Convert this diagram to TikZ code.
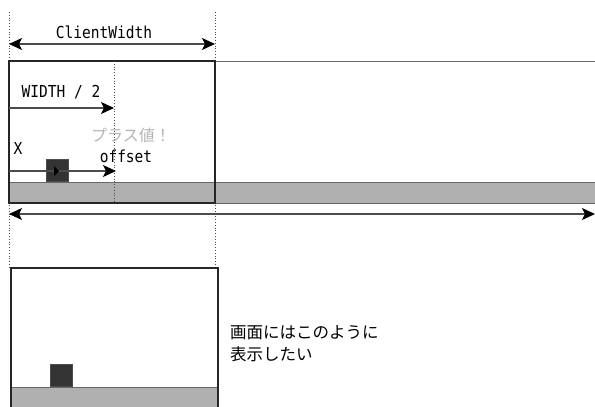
\documentclass[tikz,border=0pt]{standalone}
\usepackage{fontspec}
\usetikzlibrary{arrows.meta}
\newfontfamily\monof[FakeStretch=0.88]{DejaVu Sans Mono}
\newfontfamily\jpf{Noto Sans CJK JP}
\definecolor{bandgray}{HTML}{B0B0B0}
\definecolor{bandedge}{HTML}{666666}
\definecolor{sqdark}{HTML}{333333}
\definecolor{softgray}{HTML}{B4B4B4}
\tikzset{
  frame/.style={draw=black!85, line width=2.4pt},
  band/.style={fill=bandgray, draw=bandedge, line width=0.9pt},
  sq/.style={fill=sqdark, draw=black!70, line width=0.6pt},
  guide/.style={draw=black!70, line width=0.8pt, dotted},
  tip/.style={Stealth[length=13pt,width=12pt,inset=3pt,black]},
  arr/.style={draw=black!70, line width=1.2pt, -{Stealth[length=13pt,width=12pt,inset=3pt,black]}},
  darr/.style={draw=black!70, line width=1.2pt, {Stealth[length=13pt,width=12pt,inset=3pt,black]}-{Stealth[length=13pt,width=12pt,inset=3pt,black]}},
  mono/.style={font=\monof\fontsize{16.5}{18}\selectfont, inner sep=0pt, text=black},
  jp/.style={font=\jpf\fontsize{16.5}{22}\selectfont, inner sep=0pt, align=left},
}
\begin{document}
\begin{tikzpicture}[x=1pt,y=-1pt]
\useasboundingbox (0,0) rectangle (595,407);
% guides
\coordinate (gL1) at (9,12);
\coordinate (gL2) at (9,268);
\coordinate (gR1) at (215,12);
\coordinate (gR2) at (215,268);
\draw[guide] (gL1) -- (gL2);
\draw[guide] (gR1) -- (gR2);
% ClientWidth
\coordinate (cwL) at (9,44);
\coordinate (cwR) at (215,44);
\draw[darr] (cwL) -- (cwR);
\node[mono] (cw) at (104,32) {ClientWidth};
% top scene
\draw[draw=black!60, line width=0.9pt] (215,61) -- (595,61);
\draw[band] (9,182) rectangle (595,203);
\draw[frame] (9,61) rectangle (215,203);
\coordinate (mid1) at (114,61);
\coordinate (mid2) at (114,203);
\draw[guide] (mid1) -- (mid2);
% WIDTH / 2
\coordinate (w2L) at (9,108);
\coordinate (w2R) at (114,108);
\draw[arr] (w2L) -- (w2R);
\node[mono] (w2) at (61,92) {WIDTH / 2};
% square + offset
\node[sq, minimum width=22pt, minimum height=22pt, inner sep=0pt, anchor=south west] (sqA) at (46,182) {};
\coordinate (ofL) at (9,171);
\coordinate (ofR) at (116,171);
\draw[arr] (ofL) -- (ofR);
\fill[black] (54,166) -- (59,171) -- (54,176) -- cycle;
\node[mono] (xl) at (18,148) {X};
\node[font=\jpf\fontsize{16}{18}\selectfont, text=softgray, inner sep=0pt] (plus) at (131,135) {プラス値！};
\node[mono] (of) at (126,156) {offset};
% long arrow
\coordinate (laL) at (9,214);
\coordinate (laR) at (595,214);
\draw[darr] (laL) -- (laR);
% bottom scene
\draw[band] (11,387) rectangle (218,409);
\node[sq, minimum width=22pt, minimum height=22pt, inner sep=0pt, anchor=south west] (sqB) at (50,387) {};
\draw[frame] (11,420) -- (11,268) -- (218,268) -- (218,420);
\node[jp, anchor=north west] (msg) at (230,325) {画面にはこのように\\表示したい};
\end{tikzpicture}
\end{document}
